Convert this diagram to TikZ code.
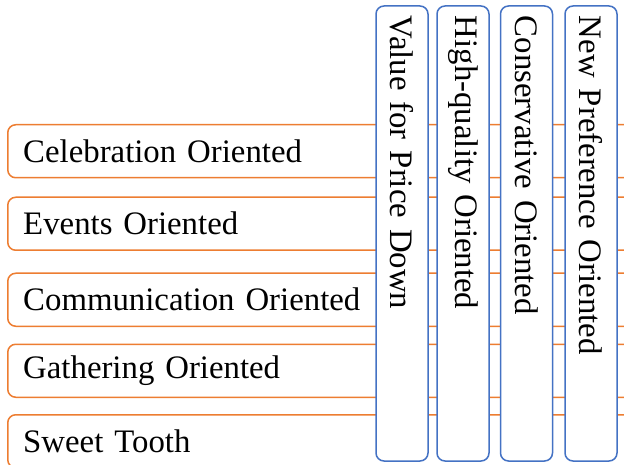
\documentclass[tikz,border=0pt]{standalone}
\usepackage{fontspec}
\setmainfont{Liberation Serif}

\begin{document}
\begin{tikzpicture}[x=1pt,y=-1pt,
  segment/.style={draw=segcolor,line width=1.5pt,rounded corners=8pt,fill=white,
    anchor=north west,minimum height=53pt,text width=620pt,inner xsep=15.5pt,
    align=left,font=\fontsize{32.8}{40}\selectfont},
  trait/.style={draw=traitcolor,line width=1.5pt,rounded corners=8pt,fill=white,
    rotate=-90,minimum width=455pt,minimum height=52pt,text width=435pt,
    inner xsep=10pt,align=left,font=\fontsize{32.8}{40}\selectfont}]
  \definecolor{segcolor}{RGB}{237,125,49}
  \definecolor{traitcolor}{RGB}{68,114,196}

  \path [use as bounding box] (0,0) rectangle (624,465);
  \clip (0,0) rectangle (624,465);

  % horizontal bars
  \node [segment] (celebration)   at (7,124)   {Celebration Oriented};
  \node [segment] (events)        at (7,196.5) {Events Oriented};
  \node [segment] (communication) at (7,272.5) {Communication Oriented};
  \node [segment] (gathering)     at (7,343.5) {Gathering Oriented};
  \node [segment] (sweet)         at (7,414)   {Sweet Tooth};

  % vertical bars on top
  \foreach \x/\name/\txt in {402/value/Value for Price Down,
                             463/quality/High-quality Oriented,
                             526.5/conservative/Conservative Oriented,
                             591/newpref/New Preference Oriented}
    \node [trait] (\name) at (\x,233.5) {\txt};
\end{tikzpicture}
\end{document}
